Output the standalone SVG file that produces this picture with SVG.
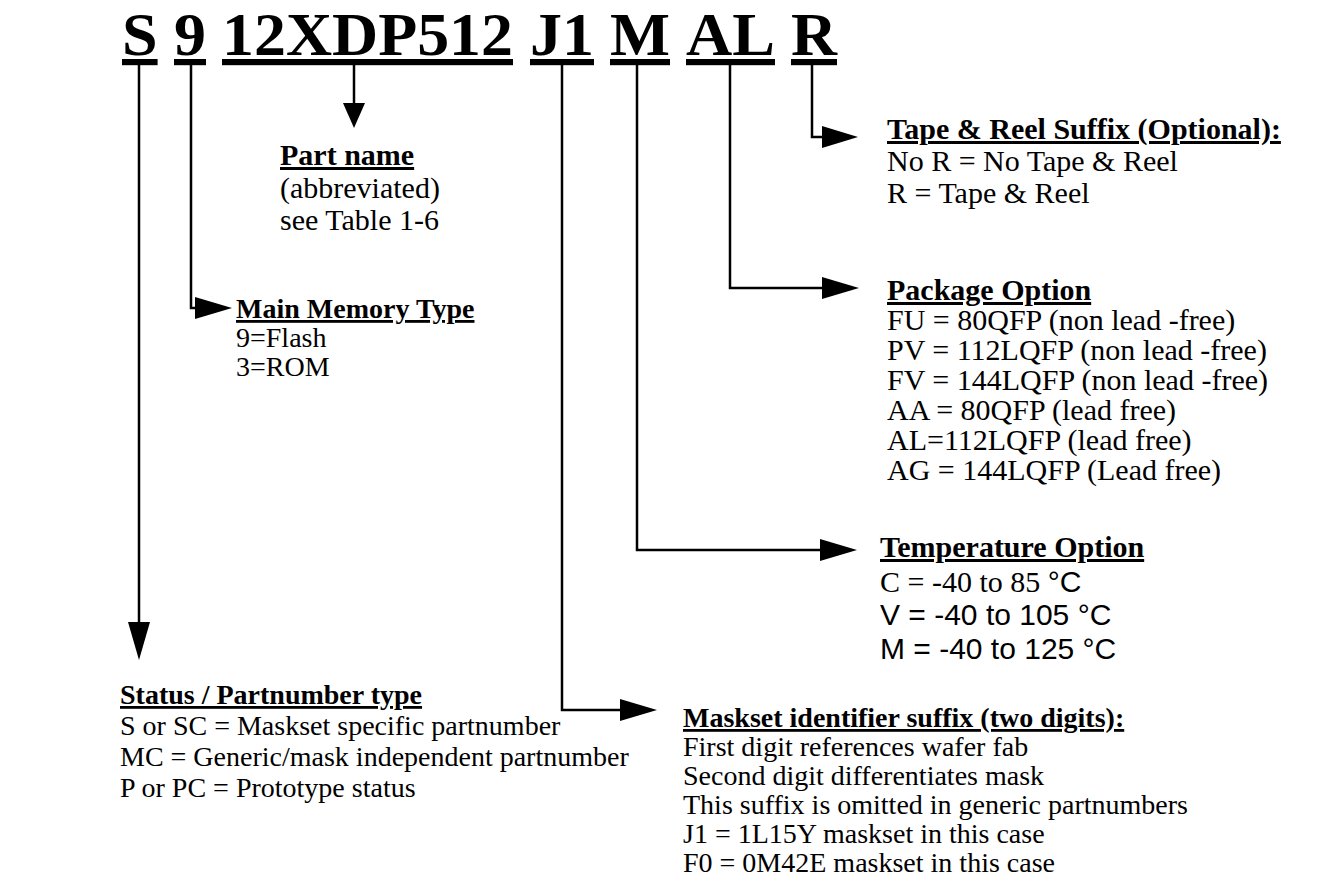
<svg xmlns="http://www.w3.org/2000/svg" width="1318" height="884" viewBox="0 0 1318 884">
<style>
.hd{font-family:"Liberation Serif","Times New Roman",serif;font-weight:bold;font-size:62px;text-decoration:underline;fill:#000}
.t{font-family:"Liberation Serif","Times New Roman",serif;font-size:30px;fill:#000}
.m{font-size:28px}
.b{font-weight:bold;text-decoration:underline}
.s{font-family:"Liberation Sans",Arial,sans-serif}
.ln{fill:none;stroke:#000;stroke-width:2.5}
.ah{fill:#000}
</style>
<rect width="1318" height="884" fill="#fff"/>
<g id="header">
<text class="hd" x="122" y="55" textLength="35.6" lengthAdjust="spacingAndGlyphs">S</text>
<text class="hd" x="174" y="55" textLength="32" lengthAdjust="spacingAndGlyphs">9</text>
<text class="hd" x="222" y="55" textLength="291" lengthAdjust="spacingAndGlyphs">12XDP512</text>
<text class="hd" x="530" y="55" textLength="64" lengthAdjust="spacingAndGlyphs">J1</text>
<text class="hd" x="610" y="55" textLength="60" lengthAdjust="spacingAndGlyphs">M</text>
<text class="hd" x="686" y="55" textLength="89" lengthAdjust="spacingAndGlyphs">AL</text>
<text class="hd" x="791" y="55" textLength="46" lengthAdjust="spacingAndGlyphs">R</text>
</g>
<g id="connectors">
<polyline class="ln" points="139,63 139,625"/>
<polygon class="ah" points="128,622 150,622 139,660"/>
<polyline class="ln" points="191,63 191,308 198,308"/>
<polygon class="ah" points="195,297 195,319 232,308"/>
<polyline class="ln" points="354,63 354,105"/>
<polygon class="ah" points="343,103 365,103 354,128"/>
<polyline class="ln" points="562,63 562,710 622,710"/>
<polygon class="ah" points="620,699 620,721 657,710"/>
<polyline class="ln" points="637,63 637,550 822,550"/>
<polygon class="ah" points="820,539 820,561 857,550"/>
<polyline class="ln" points="730,63 730,288 824,288"/>
<polygon class="ah" points="822,277 822,299 859,288"/>
<polyline class="ln" points="812,63 812,137 824,137"/>
<polygon class="ah" points="822,126 822,148 858,137"/>
</g>
<g id="part-name">
<text class="t" x="280" y="165"><tspan class="b">Part name</tspan><tspan x="280" dy="33">(abbreviated)</tspan><tspan x="280" dy="32">see Table 1-6</tspan></text>
</g>
<g id="tape-reel">
<text class="t" x="887" y="139"><tspan class="b">Tape &amp; Reel Suffix (Optional):</tspan><tspan x="887" dy="32">No R = No Tape &amp; Reel</tspan><tspan x="887" dy="32">R = Tape &amp; Reel</tspan></text>
</g>
<g id="package">
<text class="t" x="887" y="300"><tspan class="b">Package Option</tspan><tspan x="887" dy="30">FU = 80QFP (non lead -free)</tspan><tspan x="887" dy="30">PV = 112LQFP (non lead -free)</tspan><tspan x="887" dy="30">FV = 144LQFP (non lead -free)</tspan><tspan x="887" dy="30">AA = 80QFP (lead free)</tspan><tspan x="887" dy="30">AL=112LQFP (lead free)</tspan><tspan x="887" dy="30">AG = 144LQFP (Lead free)</tspan></text>
</g>
<g id="main-memory">
<text class="t m" x="236" y="318"><tspan class="b">Main Memory Type</tspan><tspan x="236" dy="29">9=Flash</tspan><tspan x="236" dy="29">3=ROM</tspan></text>
</g>
<g id="temperature">
<text class="t" x="880" y="557"><tspan class="b">Temperature Option</tspan></text>
<text class="t" x="880" y="592">C = -40 to 85 <tspan class="s">°C</tspan></text>
<text class="t s" x="880" y="625">V = -40 to 105 °C</text>
<text class="t s" x="880" y="659">M = -40 to 125 °C</text>
</g>
<g id="maskset">
<text class="t m" x="683" y="727"><tspan class="b">Maskset identifier suffix (two digits):</tspan><tspan x="683" dy="29">First digit references wafer fab</tspan><tspan x="683" dy="29">Second digit differentiates mask</tspan><tspan x="683" dy="29">This suffix is omitted in generic partnumbers</tspan><tspan x="683" dy="29">J1 = 1L15Y maskset in this case</tspan><tspan x="683" dy="29">F0 = 0M42E maskset in this case</tspan></text>
</g>
<g id="status">
<text class="t m" x="120" y="704"><tspan class="b">Status / Partnumber type</tspan><tspan x="120" dy="31">S or SC = Maskset specific partnumber</tspan><tspan x="120" dy="31">MC = Generic/mask independent partnumber</tspan><tspan x="120" dy="31">P or PC = Prototype status</tspan></text>
</g>
</svg>
